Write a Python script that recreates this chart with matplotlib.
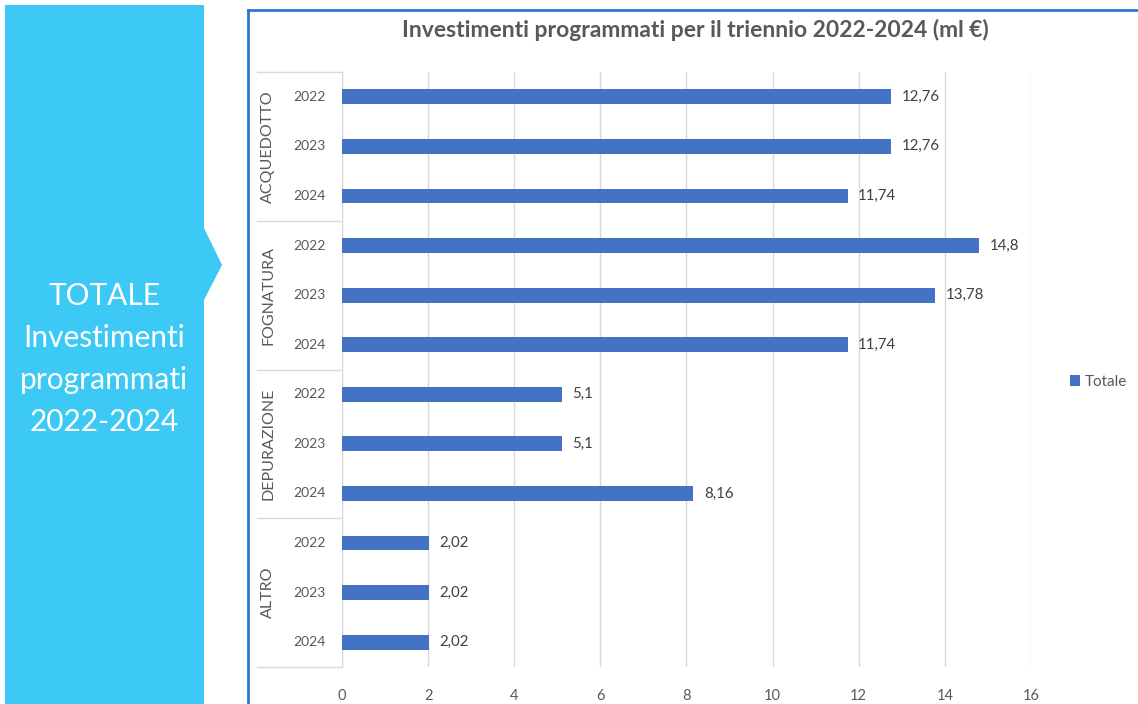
import matplotlib
matplotlib.use("Agg")
import matplotlib.pyplot as plt
from matplotlib.patches import Polygon
from matplotlib.lines import Line2D
import matplotlib.transforms as mtransforms

plt.rcParams['font.family'] = ['Lato', 'DejaVu Sans']

groups = ["ACQUEDOTTO", "FOGNATURA", "DEPURAZIONE", "ALTRO"]
years = ["2022", "2023", "2024"]
values = [
    [12.76, 12.76, 11.74],
    [14.8, 13.78, 11.74],
    [5.1, 5.1, 8.16],
    [2.02, 2.02, 2.02],
]
x_ticks = [0, 2, 4, 6, 8, 10, 12, 14, 16]
title = "Investimenti programmati per il triennio 2022-2024 (ml €)"
series_name = "Totale"
panel_text = "TOTALE\nInvestimenti\nprogrammati\n2022-2024"

W, H = 1138, 704
fig = plt.figure(figsize=(W / 100, H / 100), dpi=100)
fig.patch.set_facecolor("white")

def fx(px):
    return px / W

def fy(py):
    return 1 - py / H

# Cyan arrow panel
pts = [(5, 5), (204, 5), (204, 228), (222, 265), (204, 300), (204, 704), (5, 704)]
panel = Polygon([(fx(x), fy(y)) for x, y in pts], closed=True, transform=fig.transFigure,
                facecolor="#3DC9F6", edgecolor="none")
fig.patches.append(panel)
fig.text(fx(104), fy(359), panel_text, color="white", fontsize=21.5, ha="center", va="center",
         linespacing=1.62)

# Chart border (blue)
fig.add_artist(Line2D([fx(248), fx(248)], [fy(10), fy(704)], transform=fig.transFigure,
                      color="#2E74D4", lw=2))
fig.add_artist(Line2D([fx(248), fx(1138)], [fy(10), fy(10)], transform=fig.transFigure,
                      color="#2E74D4", lw=2))

ax = fig.add_axes([fx(342), fy(667), fx(1031) - fx(342), (667 - 72) / H])

vals = [v for g in values for v in g]
ypos = list(range(len(vals)))
bars = ax.barh(ypos, vals, height=0.3, color="#4472C4", label=series_name, zorder=3)
ax.set_ylim(len(vals) - 0.5, -0.5)
ax.set_xlim(0, 16)
ax.set_xticks(x_ticks)
ax.set_xticklabels([str(t) for t in x_ticks], fontsize=10.5, color="#595959")
ax.tick_params(axis="x", length=0, pad=16)
ax.set_yticks([])
for s in ["top", "right", "bottom"]:
    ax.spines[s].set_visible(False)
ax.spines["left"].set_color("#D9D9D9")
ax.grid(axis="x", color="#D9D9D9", lw=1, zorder=0)

for b, v in zip(bars, vals):
    ax.annotate(f"{v:g}".replace(".", ","), (v, b.get_y() + b.get_height() / 2),
                xytext=(7.5, 0), textcoords="offset points", va="center", ha="left",
                fontsize=10.8, color="#404040")

trans = mtransforms.blended_transform_factory(ax.transAxes, ax.transData)
x_line0 = (257 - 342) / (1031 - 342)
x_group = (268 - 342) / (1031 - 342)
x_year = (326 - 342) / (1031 - 342)
for gi, g in enumerate(groups):
    top = gi * 3 - 0.5
    ax.add_line(Line2D([x_line0, 0], [top, top], transform=trans, color="#D9D9D9", lw=1,
                       clip_on=False))
    ax.text(x_group, gi * 3 + 1, g, transform=trans, rotation=90, ha="center", va="center",
            fontsize=11.5, color="#595959")
    for yi, yr in enumerate(years):
        ax.text(x_year, gi * 3 + yi, yr, transform=trans, ha="right", va="center",
                fontsize=10, color="#595959")
end = len(vals) - 0.5
ax.add_line(Line2D([x_line0, 0], [end, end], transform=trans, color="#D9D9D9", lw=1,
                   clip_on=False))

fig.text(fx(695), fy(30), title, ha="center", va="center", fontsize=16.5, fontweight="bold",
         color="#595959")

fig.legend(handles=[bars], labels=[series_name], loc="center left",
           bbox_to_anchor=(fx(1056), fy(382)), frameon=False, fontsize=11,
           handlelength=0.7, handleheight=0.7, handletextpad=0.3, labelcolor="#595959")

fig.savefig("out.png", dpi=100)
